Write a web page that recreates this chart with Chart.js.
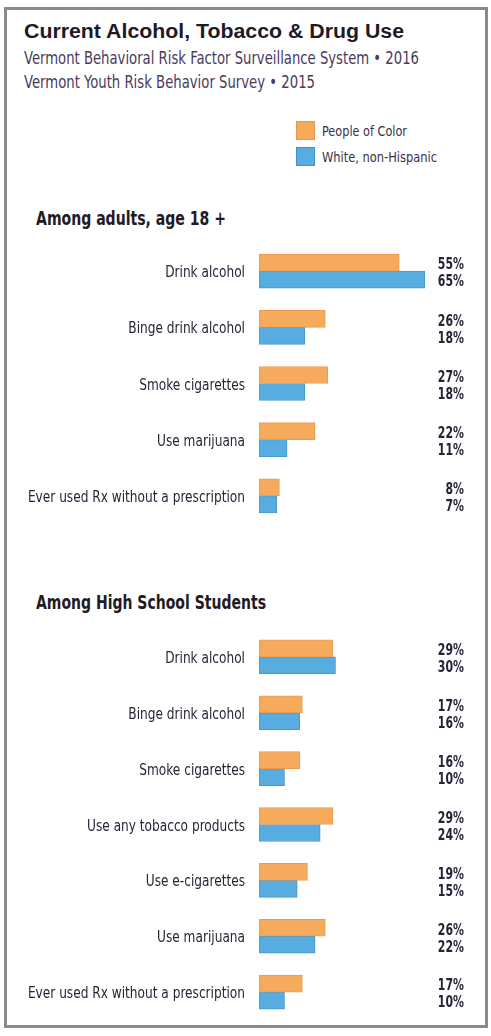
<!DOCTYPE html>
<html>
<head>
<meta charset="utf-8">
<script src="https://cdn.jsdelivr.net/npm/chart.js@4.4.1/dist/chart.umd.min.js"></script>
<style>
  html, body { margin: 0; padding: 0; background: #fff; }
  body { width: 491px; height: 1036px; position: relative; overflow: hidden;
         font-family: 'Liberation Sans Narrow', 'DejaVu Sans Condensed', 'Liberation Sans', sans-serif; color: #2b2238; }
  .frame { position: absolute; left: 4px; top: 7px; width: 478px; height: 1015px; border: 3px solid #8a8a8a; }
  .txt { position: absolute; white-space: nowrap; transform-origin: 0 50%; line-height: 1; }
  .title { left: 24px; top: 21px; font-family: 'Liberation Sans', sans-serif; font-weight: bold; font-size: 20px; color: #1f1a26; }
  .sub { left: 24px; font-size: 18px; color: #4a3a5c; }
  .lg { left: 322px; font-size: 14px; color: #3a3048; }
  .sw { position: absolute; left: 296px; width: 19px; height: 19px; box-sizing: border-box; }
  .head { left: 36px; font-weight: bold; font-size: 19px; color: #1f1a26; }
  .box { position: absolute; left: 0; width: 491px; }
</style>
</head>
<body>
<div class="frame"></div>

<div class="txt title" data-w="380">Current Alcohol, Tobacco &amp; Drug Use</div>
<div class="txt sub" style="top:49px" data-w="395">Vermont Behavioral Risk Factor Surveillance System • 2016</div>
<div class="txt sub" style="top:73px" data-w="291">Vermont Youth Risk Behavior Survey • 2015</div>

<div class="sw" style="top:121px;background:#f6aa5c;border:1px solid #e9964a"></div>
<div class="txt lg" style="top:124px" data-w="85">People of Color</div>
<div class="sw" style="top:147px;background:#58ade0;border:1px solid #3f93c8"></div>
<div class="txt lg" style="top:150px" data-w="115">White, non-Hispanic</div>

<div class="txt head" style="top:209px" data-w="190">Among adults, age 18 +</div>
<div class="box" style="top:243px;height:281px"><canvas id="adultChart"></canvas></div>

<div class="txt head" style="top:593px" data-w="230">Among High School Students</div>
<div class="box" style="top:629px;height:391px"><canvas id="studentChart"></canvas></div>

<script>
// Adults (BRFSS 2016)
var adultLabels = ['Drink alcohol', 'Binge drink alcohol', 'Smoke cigarettes', 'Use marijuana', 'Ever used Rx without a prescription'];
var adultColor = [55, 26, 27, 22, 8];
var adultWhite = [65, 18, 18, 11, 7];

// High school students (YRBS 2015)
var studentLabels = ['Drink alcohol', 'Binge drink alcohol', 'Smoke cigarettes', 'Use any tobacco products', 'Use e-cigarettes', 'Use marijuana', 'Ever used Rx without a prescription'];
var studentColor = [29, 17, 16, 29, 19, 26, 17];
var studentWhite = [30, 16, 10, 24, 15, 22, 10];

var seriesNames = ['People of Color', 'White, non-Hispanic'];

var ORANGE = '#f6aa5c', ORANGE_EDGE = '#ec9a4e';
var BLUE = '#58ade0', BLUE_EDGE = '#4298cf';
var FONT = "'Liberation Sans Narrow', 'DejaVu Sans Condensed', 'Liberation Sans', sans-serif";
var INK = '#2b2238';

// squeeze html text lines to their column widths
document.querySelectorAll('[data-w]').forEach(function(el) {
    var w = el.getBoundingClientRect().width;
    var target = parseFloat(el.getAttribute('data-w'));
    if (w > 0) el.style.transform = 'scaleX(' + (target / w) + ')';
});

// condensed text: draw at (x, y) squeezed horizontally
function squeezedText(ctx, text, x, y, sx) {
    ctx.save();
    ctx.translate(x, y);
    ctx.scale(sx, 1);
    ctx.fillText(text, 0, 0);
    ctx.restore();
}

// category names, right aligned against the bars
var categoryLabels = {
    id: 'categoryLabels',
    afterDraw: function(chart) {
        var ctx = chart.ctx, yScale = chart.scales.y;
        ctx.save();
        ctx.font = '16px ' + FONT;
        ctx.fillStyle = INK;
        ctx.textAlign = 'right';
        ctx.textBaseline = 'alphabetic';
        chart.data.labels.forEach(function(lab, i) {
            squeezedText(ctx, lab, chart.chartArea.left - 14, yScale.getPixelForTick(i) + 6, 0.845);
        });
        ctx.restore();
    }
};

// percent values in a column at the right edge of the plot
var valueLabels = {
    id: 'valueLabels',
    afterDatasetsDraw: function(chart) {
        var ctx = chart.ctx;
        ctx.save();
        ctx.font = 'bold 15px ' + FONT;
        ctx.fillStyle = INK;
        ctx.textAlign = 'right';
        ctx.textBaseline = 'middle';
        var x = chart.chartArea.right + 1;
        chart.data.datasets.forEach(function(ds, i) {
            chart.getDatasetMeta(i).data.forEach(function(bar, j) {
                squeezedText(ctx, ds.data[j] + '%', x, bar.y + 3, 0.81);
            });
        });
        ctx.restore();
    }
};

function makeChart(id, labels, color, white) {
    var ctx = document.getElementById(id).getContext('2d');
    return new Chart(ctx, {
        type: 'bar',
        data: {
            labels: labels,
            datasets: [{
                label: seriesNames[0],
                data: color,
                backgroundColor: ORANGE,
                borderColor: ORANGE_EDGE,
                borderWidth: 1,
                borderSkipped: false,
                barThickness: 17
            }, {
                label: seriesNames[1],
                data: white,
                backgroundColor: BLUE,
                borderColor: BLUE_EDGE,
                borderWidth: 1,
                borderSkipped: false,
                barThickness: 17
            }]
        },
        options: {
            indexAxis: 'y',
            responsive: true,
            maintainAspectRatio: false,
            animation: false,
            layout: { padding: { left: 0, right: 28, top: 0, bottom: 0 } },
            plugins: {
                legend: { display: false },
                tooltip: { enabled: false }
            },
            scales: {
                x: {
                    display: false,
                    min: 0,
                    max: 80
                },
                y: {
                    grid: { display: false, drawTicks: false },
                    border: { display: false },
                    ticks: { display: false },
                    afterFit: function(scale) {
                        scale.width = 259;
                        scale.paddingTop = 0;
                        scale.paddingBottom = 0;
                    }
                }
            }
        },
        plugins: [categoryLabels, valueLabels]
    });
}

makeChart('adultChart', adultLabels, adultColor, adultWhite);
makeChart('studentChart', studentLabels, studentColor, studentWhite);
</script>
</body>
</html>
